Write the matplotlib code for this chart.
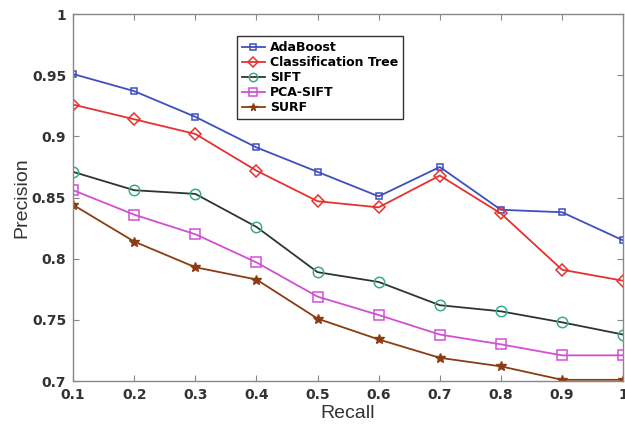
import numpy as np
import matplotlib
matplotlib.use('Agg')
import matplotlib.pyplot as plt

recall = [0.1, 0.2, 0.3, 0.4, 0.5, 0.6, 0.7, 0.8, 0.9, 1.0]

adaboost = [0.951, 0.937, 0.916, 0.891, 0.871, 0.851, 0.875, 0.840, 0.838, 0.815]
class_tree = [0.926, 0.914, 0.902, 0.872, 0.847, 0.842, 0.868, 0.837, 0.791, 0.782]
sift = [0.871, 0.856, 0.853, 0.826, 0.789, 0.781, 0.762, 0.757, 0.748, 0.738]
pca_sift = [0.856, 0.836, 0.820, 0.797, 0.769, 0.754, 0.738, 0.730, 0.721, 0.721]
surf = [0.844, 0.814, 0.793, 0.783, 0.751, 0.734, 0.719, 0.712, 0.701, 0.701]

xtick_labels = ['0.1', '0.2', '0.3', '0.4', '0.5', '0.6', '0.7', '0.8', '0.9', '1']
yticks = [0.7, 0.75, 0.8, 0.85, 0.9, 0.95, 1.0]
ytick_labels = ['0.7', '0.75', '0.8', '0.85', '0.9', '0.95', '1']

fig = plt.figure(figsize=(6.25, 4.4), dpi=100)
ax = fig.add_axes([0.117, 0.134, 0.880, 0.834])

ax.plot(recall, adaboost, color='#3f4fbf', lw=1.3, marker='s', ms=5,
        mfc='none', mec='#3f4fbf', mew=1.1, label='AdaBoost')
ax.plot(recall, class_tree, color='#e5322e', lw=1.3, marker='D', ms=6,
        mfc='none', mec='#e5322e', mew=1.1, label='Classification Tree')
ax.plot(recall, sift, color='#2c3535', lw=1.3, marker='o', ms=7.5,
        mfc='none', mec='#3aaa8c', mew=1.1, label='SIFT')
ax.plot(recall, pca_sift, color='#d24fd4', lw=1.3, marker='s', ms=6.5,
        mfc='none', mec='#d24fd4', mew=1.1, label='PCA-SIFT')
ax.plot(recall, surf, color='#8c3c12', lw=1.3, marker='*', ms=7,
        mfc='#8c3c12', mec='#8c3c12', label='SURF')

ax.set_xlim(0.1, 1.0)
ax.set_ylim(0.7, 1.0)
ax.set_xticks(recall)
ax.set_xticklabels(xtick_labels)
ax.set_yticks(yticks)
ax.set_yticklabels(ytick_labels)

for s in ax.spines.values():
    s.set_color('#888888')
    s.set_linewidth(1.0)
ax.tick_params(direction='in', length=4, width=0.8, color='#888888',
               top=True, right=True, labelsize=10, labelcolor='#333333', pad=5)
for lab in ax.get_xticklabels() + ax.get_yticklabels():
    lab.set_fontweight('bold')

ax.set_xlabel('Recall', fontsize=14, family='Liberation Sans', color='#333333', labelpad=2)
ax.set_ylabel('Precision', fontsize=14, family='Liberation Sans', color='#333333', labelpad=1)

leg = ax.legend(loc='upper left', bbox_to_anchor=(0.287, 0.956),
                prop={'weight': 'bold', 'size': 9}, handlelength=1.8,
                handletextpad=0.4, labelspacing=0.15, borderpad=0.4,
                fancybox=False, framealpha=1, markerscale=0.8)
leg.get_frame().set_edgecolor('#333333')
leg.get_frame().set_linewidth(1.0)

fig.savefig('out.png', dpi=100)
